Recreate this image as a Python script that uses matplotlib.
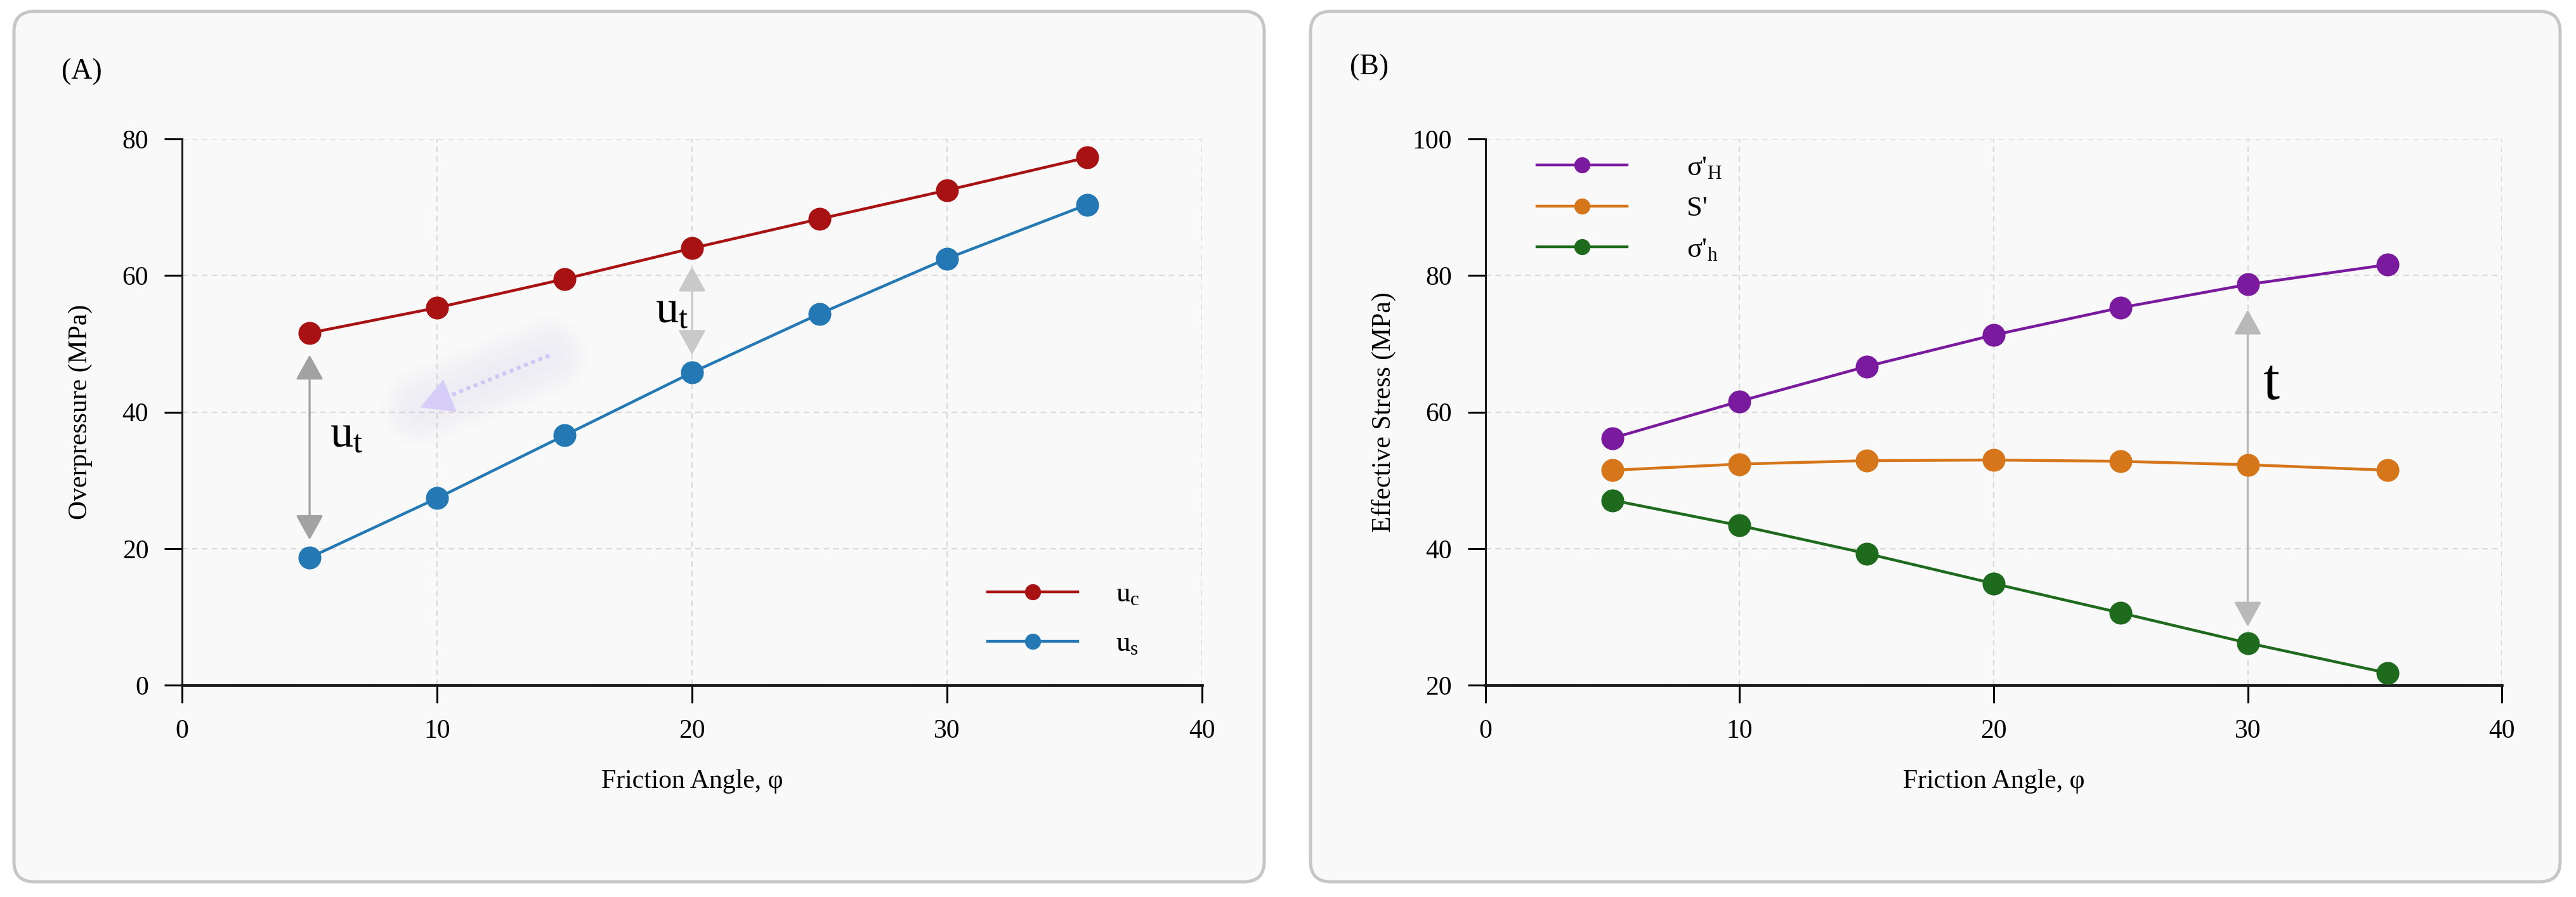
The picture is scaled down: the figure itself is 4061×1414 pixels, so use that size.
import matplotlib
matplotlib.use('Agg')
import matplotlib.pyplot as plt
from matplotlib.patches import FancyBboxPatch

plt.rcParams['font.family'] = ['Liberation Serif', 'DejaVu Serif']
plt.rcParams['mathtext.fontset'] = 'custom'
plt.rcParams['mathtext.rm'] = 'Liberation Serif'
plt.rcParams['mathtext.it'] = 'Liberation Serif:italic'

# data
phi = [5, 10, 15, 20, 25, 30, 35.5]
u_c = [51.6, 55.3, 59.5, 64.0, 68.3, 72.5, 77.3]
u_s = [18.7, 27.4, 36.6, 45.8, 54.4, 62.5, 70.4]
sig_H = [56.2, 61.6, 66.7, 71.3, 75.3, 78.7, 81.6]
S_eff = [51.5, 52.4, 52.9, 53.0, 52.8, 52.3, 51.5]
sig_h = [47.1, 43.4, 39.3, 34.9, 30.6, 26.2, 21.8]

x_ticks = [0, 10, 20, 30, 40]
yA_ticks = [0, 20, 40, 60, 80]
yB_ticks = [20, 40, 60, 80, 100]

# colours
c_red = '#a81212'
c_blue = '#2479b5'
c_purple = '#7a1a9e'
c_orange = '#d6761a'
c_green = '#1e6b1e'

W, H, DPI = 4061, 1414, 200
fig = plt.figure(figsize=(W / DPI, H / DPI), dpi=DPI)
fig.patch.set_facecolor('white')

# rounded panel boxes (pixel positions / dpi -> inches)
for x0, x1 in [(22, 1993), (2066, 4036)]:
    box = FancyBboxPatch((x0 / DPI, (H - 1390) / DPI), (x1 - x0) / DPI, (1390 - 18) / DPI,
                         boxstyle='round,pad=0,rounding_size=0.16',
                         transform=fig.dpi_scale_trans, fc='#f9f9f9', ec='#c6c6c6',
                         lw=1.8, zorder=-5)
    fig.add_artist(box)

axA = fig.add_axes([0.0707, 0.236, 0.3959, 0.609])
axB = fig.add_axes([0.5767, 0.236, 0.3945, 0.609])

def style_axis(ax, yticks):
    ax.set_facecolor('none')
    ax.set_xlim(0, 40)
    ax.set_ylim(yticks[0], yticks[-1])
    ax.set_xticks(x_ticks)
    ax.set_yticks(yticks)
    for s in ['top', 'right']:
        ax.spines[s].set_visible(False)
    ax.spines['left'].set_linewidth(1.1)
    ax.spines['bottom'].set_linewidth(1.7)
    ax.spines['left'].set_color('#1a1a1a')
    ax.spines['bottom'].set_color('#1a1a1a')
    ax.tick_params(direction='out', length=10, width=1.1, labelsize=15, pad=9)
    ax.grid(True, linestyle=(0, (4, 3)), color='#dadada', lw=0.8, zorder=0)
    ax.set_axisbelow(True)
    ax.set_xlabel('Friction Angle, φ', fontsize=15)
    ax.xaxis.set_label_coords(0.5, -0.153)

style_axis(axA, yA_ticks)
style_axis(axB, yB_ticks)
axA.set_ylabel('Overpressure (MPa)', fontsize=15)
axB.set_ylabel('Effective Stress (MPa)', fontsize=15)
axA.yaxis.set_label_coords(-0.088, 0.5)
axB.yaxis.set_label_coords(-0.088, 0.5)

kw = dict(lw=1.6, marker='o', markersize=13, markeredgewidth=0, zorder=4)

# panel A
axA.plot(phi, u_c, color=c_red, label=r'$\mathrm{u_c}$', **kw)
axA.plot(phi, u_s, color=c_blue, label=r'$\mathrm{u_s}$', **kw)

def dbl_arrow(ax, x, y0, y1, color):
    ax.annotate('', xy=(x, y1), xytext=(x, y0),
                arrowprops=dict(arrowstyle='<|-|>,head_length=0.36,head_width=0.2',
                                color=color, lw=1.2, mutation_scale=34,
                                shrinkA=0, shrinkB=0), zorder=3)

dbl_arrow(axA, 5, 21.3, 48.4, '#a2a2a2')
dbl_arrow(axA, 20, 48.4, 61.3, '#c9c9c9')
axA.text(5.8, 34.9, r'$\mathrm{u_t}$', fontsize=26, ha='left', va='baseline')
axA.text(18.55, 53.1, r'$\mathrm{u_t}$', fontsize=26, ha='left', va='baseline')

# faint purple glow arrow
g0, g1 = (14.4, 48.3), (9.35, 40.7)
for lw_ in [44, 38, 32, 26, 20, 14]:
    axA.plot([g0[0], g1[0]], [g0[1], g1[1]], color='#a898ee', lw=lw_, alpha=0.018,
             solid_capstyle='round', zorder=1)
axA.plot([g0[0], g1[0] + 0.6], [g0[1], g1[1] + 0.9], color='#d0c6f8', lw=2.2,
         linestyle=(0, (1, 1)), zorder=2)
axA.annotate('', xy=g1, xytext=(g1[0] + 1.0, g1[1] + 1.5),
             arrowprops=dict(arrowstyle='-|>,head_length=0.45,head_width=0.25',
                             color='#d6cdf9', lw=0, mutation_scale=40,
                             shrinkA=0, shrinkB=0), zorder=2)

legA = axA.legend(loc='center left', bbox_to_anchor=(0.79, 0.121), frameon=False,
                  fontsize=16, handlelength=3.2, handletextpad=1.35,
                  labelspacing=0.85, markerscale=0.7, borderpad=0, borderaxespad=0)

# panel B
axB.plot(phi, sig_H, color=c_purple, label=r"σ'$_{\mathrm{H}}$", **kw)
axB.plot(phi, S_eff, color=c_orange, label="S'", **kw)
axB.plot(phi, sig_h, color=c_green, label=r"σ'$_{\mathrm{h}}$", **kw)
dbl_arrow(axB, 30, 28.6, 75.0, '#b9b9b9')
axB.text(30.6, 61.9, 't', fontsize=34, ha='left', va='baseline')

legB = axB.legend(loc='center left', bbox_to_anchor=(0.0506, 0.872), frameon=False,
                  fontsize=16, handlelength=3.2, handletextpad=2.1,
                  labelspacing=0.55, markerscale=0.7, borderpad=0, borderaxespad=0)

fig.text(97 / W, 1 - 113 / H, '(A)', fontsize=16.5, ha='left', va='center')
fig.text(2128 / W, 1 - 106 / H, '(B)', fontsize=16.5, ha='left', va='center')

fig.savefig('out.png', dpi=DPI, facecolor='white')
